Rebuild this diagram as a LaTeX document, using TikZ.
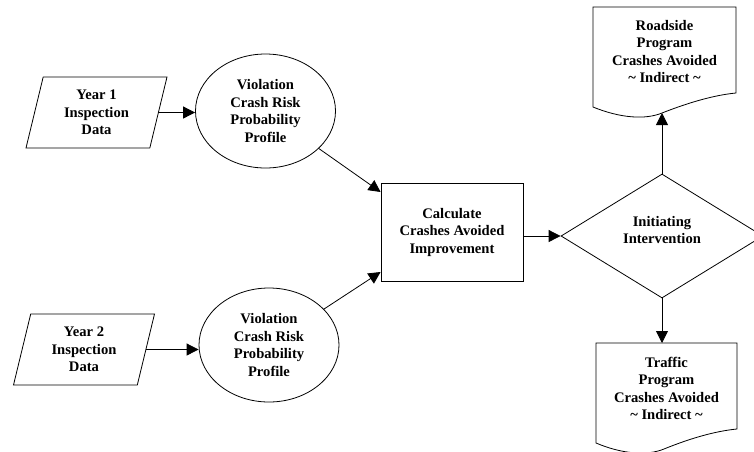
\documentclass[tikz,border=0pt]{standalone}
\usepackage{fontspec}
\setmainfont{Liberation Serif}
\usetikzlibrary{shapes.geometric,arrows.meta,calc}
\begin{document}
\begin{tikzpicture}[x=1pt,y=-1pt,
  every node/.style={font=\bfseries\fontsize{14.6}{17.5}\selectfont, align=center, inner sep=0pt},
  outline/.style={draw=black, line width=0.8pt},
  datain/.style={outline, trapezium, trapezium left angle=69, trapezium right angle=111,
    trapezium stretches body, minimum width=141pt, minimum height=71pt},
  profile/.style={outline, ellipse, minimum width=140pt, minimum height=114pt},
  process/.style={outline, rectangle, minimum width=142pt, minimum height=98pt},
  decision/.style={outline, diamond, minimum width=202pt, minimum height=124pt},
  flow/.style={line width=0.8pt, -{Triangle[length=12pt,width=12pt]}},
  docline/.style={line width=0.8pt, line join=miter}
]
\useasboundingbox (0,0) rectangle (754,451);
\clip (0,0) rectangle (754,451);

% inputs
\node[datain] (y1) at (96.5,112.5) {Year 1\\Inspection\\Data};
\node[datain] (y2) at (84,349.5) {Year 2\\Inspection\\Data};

% risk profiles
\node[profile] (p1) at (265.5,111) {Violation\\Crash Risk\\Probability\\Profile};
\node[profile] (p2) at (269,345) {Violation\\Crash Risk\\Probability\\Profile};

% calculation and decision
\node[process] (calc) at (452,232) {Calculate\\Crashes Avoided\\Improvement};
\node[decision] (dec) at (662,236) {};
\node (dectext) at (662,230) {Initiating\\Intervention};

% output documents
\draw[docline] (593,107) -- (593,7) -- (736,7) -- (736,93)
  .. controls (715,95) and (690,102) .. (662,113)
  .. controls (645,120) and (620,118) .. (593,107) -- cycle;
\node (doc1) at (664.5,51.5) {Roadside\\Program\\Crashes Avoided\\\textasciitilde{} Indirect \textasciitilde};
\coordinate (doc1tip) at (662,113);

\draw[docline] (596,443) -- (596,343) -- (737,343) -- (737,429)
  .. controls (716,431) and (691,438) .. (664,449)
  .. controls (647,456) and (622,454) .. (596,443) -- cycle;
\node (doc2) at (666.5,388.5) {Traffic\\Program\\Crashes Avoided\\\textasciitilde{} Indirect \textasciitilde};
\coordinate (doc2top) at (662,343);

% connectors
\draw[flow] (y1.east) -- (y1.east -| p1.west);
\draw[flow] (y2.east) -- (y2.east -| p2.west);
\draw[flow] (p1) -- ([yshift=40pt]calc.west);
\draw[flow] (p2) -- ([yshift=-40pt]calc.west);
\draw[flow] (calc.east |- dec.west) -- (dec.west);
\draw[flow] (dec.north) -- (doc1tip);
\draw[flow] (dec.south) -- (doc2top);
\end{tikzpicture}
\end{document}
